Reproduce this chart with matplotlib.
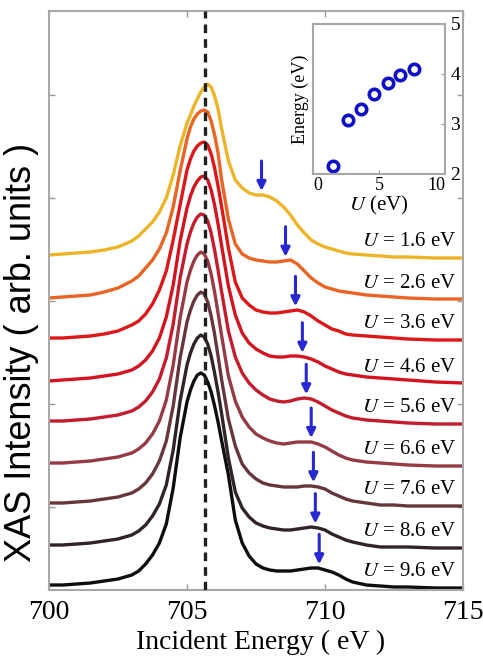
import matplotlib.pyplot as plt
import numpy as np

plt.rcParams['font.family'] = ['Liberation Serif', 'DejaVu Serif']
plt.rcParams['mathtext.fontset'] = 'stix'

# energy grid (eV) on which the spectra were read
energy = [700, 700.5, 701, 701.5, 702, 702.5, 703, 703.25, 703.5, 703.75, 704, 704.25,
          704.5, 704.75, 705, 705.125, 705.25, 705.375, 705.5, 705.625, 705.75, 705.875,
          706, 706.125, 706.25, 706.5, 706.75, 707, 707.25, 707.5, 707.75, 708, 708.25,
          708.5, 708.75, 709, 709.25, 709.5, 709.75, 710, 710.25, 710.5, 710.75, 711,
          711.5, 712, 712.5, 713, 714, 715]

U_values = [1.6, 2.6, 3.6, 4.6, 5.6, 6.6, 7.6, 8.6, 9.6]

# intensity above each curve's own baseline (arb. units)
spec_16 = [3, 4, 5, 6, 8, 11, 17, 22, 29, 36, 46, 60, 83, 112, 135, 143, 152, 159, 166,
           171, 174, 171, 162, 149, 130, 97, 78, 70, 65, 63, 63, 61, 57, 51, 43, 33, 25,
           18, 14, 11, 9, 7, 5, 4, 3, 2, 1, 1, 0, 0]
spec_26 = [1, 2, 3, 4, 7, 11, 18, 23, 31, 39, 50, 66, 92, 128, 160, 172, 180, 185, 188,
           189, 187, 178, 164, 146, 120, 80, 55, 45, 41, 39, 38, 37, 37, 38, 39, 35, 28,
           21, 16, 12, 10, 8, 7, 6, 4, 3, 2, 1, 0, 0]
spec_36 = [2, 2, 3, 4, 6, 9, 15, 19, 26, 36, 50, 69, 100, 135, 170, 181, 189, 194, 197,
           198, 195, 186, 172, 154, 134, 92, 58, 42, 35, 30, 28, 27, 27, 28, 29, 30, 28,
           24, 19, 15, 11, 9, 6, 5, 4, 3, 2, 1, 0, 0]
spec_46 = [2, 3, 4, 5, 7, 9, 13, 17, 23, 32, 45, 66, 98, 142, 175, 187, 196, 202, 206,
           207, 203, 193, 178, 159, 138, 97, 68, 50, 40, 34, 30, 27, 26, 26, 27, 27, 26,
           24, 21, 17, 14, 11, 9, 8, 6, 5, 4, 3, 1, 0]
spec_56 = [3, 3, 4, 5, 7, 9, 13, 17, 23, 32, 45, 66, 100, 146, 180, 192, 201, 207, 210,
           209, 203, 191, 174, 154, 133, 93, 67, 51, 41, 34, 29, 25, 23, 22, 23, 25, 26,
           25, 22, 18, 14, 11, 8, 6, 4, 3, 2, 1, 0, 0]
spec_66 = [3, 3, 4, 5, 7, 9, 13, 17, 23, 32, 45, 66, 101, 148, 184, 196, 205, 211, 214,
           212, 205, 192, 174, 153, 131, 90, 65, 49, 39, 32, 28, 25, 23, 22, 23, 24, 24,
           24, 22, 19, 15, 11, 8, 6, 4, 3, 2, 1, 0, 0]
spec_76 = [3, 3, 4, 5, 7, 9, 13, 17, 23, 32, 45, 65, 100, 148, 184, 196, 205, 211, 214,
           212, 204, 190, 172, 150, 127, 87, 60, 42, 33, 27, 23, 21, 20, 19, 19, 19, 20,
           20, 19, 17, 13, 10, 7, 5, 3, 1, 1, 0, 0, 0]
spec_86 = [3, 3, 4, 5, 7, 9, 13, 17, 23, 32, 44, 63, 98, 147, 183, 195, 204, 210, 213,
           211, 204, 192, 175, 156, 135, 90, 56, 40, 31, 25, 22, 20, 19, 18, 18, 19, 20,
           21, 20, 18, 14, 11, 8, 6, 3, 1, 1, 1, 0, 0]
spec_96 = [3, 3, 4, 5, 7, 9, 13, 17, 24, 33, 45, 64, 100, 150, 186, 198, 207, 213, 215,
           213, 206, 196, 182, 166, 148, 113, 68, 45, 32, 24, 20, 18, 17, 17, 17, 18, 19,
           20, 20, 18, 16, 13, 9, 6, 3, 2, 1, 1, 0, 0]
spectra = [spec_16, spec_26, spec_36, spec_46, spec_56, spec_66, spec_76, spec_86, spec_96]

# vertical offsets of the stacked spectra
offsets = [332, 291, 250, 207, 166, 124, 84, 42, 2]
colors = ['#eeb428', '#ea6424', '#dc1818', '#d21420', '#c41c2c', '#963a46',
          '#66363c', '#322424', '#0e0e0e']

# shoulder positions marked by arrows (eV)
shoulder_E = [707.70, 708.57, 708.93, 709.18, 709.32, 709.50, 709.58, 709.65, 709.79]

peak_line = 705.65

# inset: shoulder energy vs U
inset_U = [1.5, 2.65, 3.6, 4.6, 5.65, 6.6, 7.65]
inset_E = [2.15, 3.07, 3.29, 3.59, 3.81, 3.98, 4.10]

W, H = 483, 658
fig = plt.figure(figsize=(W / 100, H / 100), dpi=100)
ax = fig.add_axes([49 / W, 68 / H, 414 / W, 579 / H])

for spec, off, c in zip(spectra, offsets, colors):
    ax.plot(energy, np.array(spec) + off, color=c, lw=2.4,
            solid_capstyle='round', solid_joinstyle='round')

ax.axvline(peak_line, color='#202020', lw=2.4, ls=(0, (2.6, 1.8)), zorder=5)

for spec, off, es in zip(spectra, offsets, shoulder_E):
    tip = np.interp(es, energy, spec) + off + 4
    ax.annotate('', xy=(es, tip), xytext=(es, tip + 30),
                arrowprops=dict(arrowstyle='-|>', color='#2828d0', lw=2.2,
                                mutation_scale=13, shrinkA=0, shrinkB=0), zorder=6)

for U, off in zip(U_values, offsets):
    ax.text(714.78, off + 16, r'$U$ = %.1f eV' % U, ha='right', va='center', fontsize=15)

ax.set_xlim(700, 715)
ax.set_ylim(0, 579)
ax.set_xticks([700, 705, 710, 715])
ax.set_yticks([83, 186, 289, 392, 495])
ax.set_yticklabels([])
ax.tick_params(direction='in', top=True, right=True, length=4, width=1,
               color='#9a9a9a', labelsize=20, pad=7)
for s in ax.spines.values():
    s.set_color('#a8a8a8')
    s.set_linewidth(1.5)

fig.text(261 / W, 1 - 642 / H, 'Incident Energy ( eV )', ha='center', va='center', fontsize=20)
fig.text(22 / W, 1 - 352 / H, 'XAS Intensity ( arb. units )', ha='center', va='center',
         rotation=90, fontsize=26, family=['Liberation Sans', 'DejaVu Sans'])

# inset
ax2 = fig.add_axes([313 / W, 1 - 174 / H, 132 / W, 150 / H])
ax2.plot(inset_U, inset_E, 'o', mfc='none', mec='#1010c8', mew=2.6, ms=7.5)
ax2.set_xlim(0, 10)
ax2.set_ylim(2, 5)
ax2.set_xticks([0, 5, 10])
ax2.set_yticks([2, 3, 4, 5])
ax2.yaxis.tick_right()
ax2.tick_params(direction='in', length=3, color='#9a9a9a', labelsize=14, pad=2)
ax2.tick_params(axis='y', pad=4)
ax2.tick_params(axis='x', labelsize=13)
xlabs = ax2.get_xticklabels()
xlabs[0].set_ha('left')
xlabs[-1].set_ha('right')
ax2.set_xlabel(r'$U$ (eV)', fontsize=15, labelpad=0)
ax2.set_ylabel('Energy (eV)', fontsize=13, labelpad=3)
ax2.yaxis.set_label_position('left')
for s in ax2.spines.values():
    s.set_color('#a8a8a8')
    s.set_linewidth(1.5)

fig.savefig('out.png', dpi=100)
